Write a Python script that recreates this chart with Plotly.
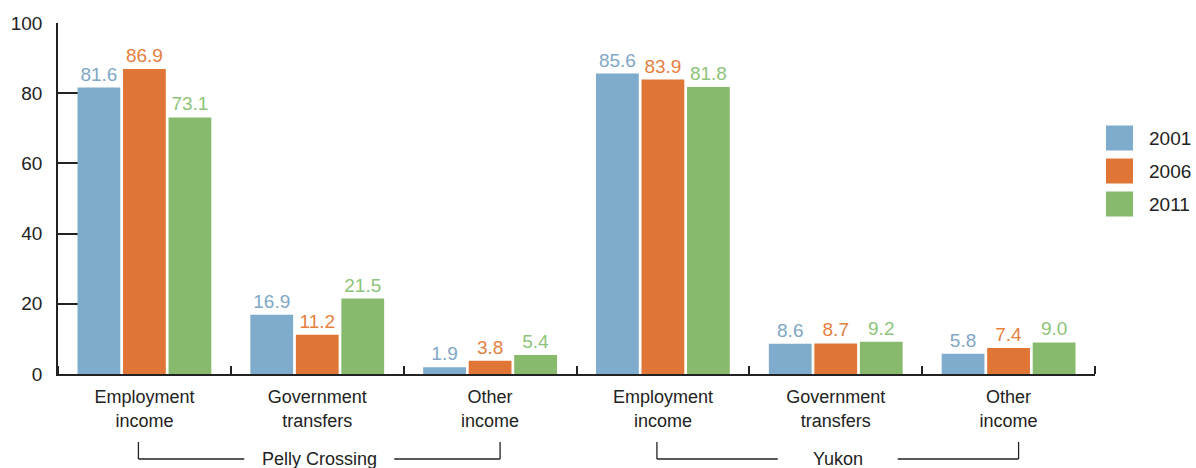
import plotly.graph_objects as go

# ---- data ----
regions = ["Pelly Crossing", "Yukon"]
income_types = ["Employment<br>income", "Government<br>transfers", "Other<br>income"]
years = ["2001", "2006", "2011"]
values_2001 = [81.6, 16.9, 1.9, 85.6, 8.6, 5.8]
values_2006 = [86.9, 11.2, 3.8, 83.9, 8.7, 7.4]
values_2011 = [73.1, 21.5, 5.4, 81.8, 9.2, 9.0]
y_ticks = [0, 20, 40, 60, 80, 100]

# ---- style ----
FONT = "Liberation Sans, Arial, sans-serif"
bar_colors = ["#7FABCC", "#E07636", "#87BA6C"]
text_colors = ["#7FA7C7", "#E5803F", "#8DC47A"]
AX = "#222222"

series = [values_2001, values_2006, values_2011]
n_cat = len(regions) * len(income_types)
x_pos = list(range(n_cat))
tick_text = [t for _ in regions for t in income_types]

fig = go.Figure()
for name, vals, c, tc in zip(years, series, bar_colors, text_colors):
    fig.add_trace(go.Bar(
        x=x_pos, y=vals, name=name,
        marker=dict(color=c, line=dict(width=0)),
        text=[f"{v:.1f}" for v in vals],
        textposition="outside",
        textfont=dict(family=FONT, size=19, color=tc),
        cliponaxis=False,
        showlegend=False,
        hoverinfo="skip",
    ))

W, H = 1196, 468
ml, mr, mt, mb = 58, 101, 23, 94
pw = W - ml - mr
ph = H - mt - mb

fig.update_layout(
    width=W, height=H,
    margin=dict(l=ml, r=mr, t=mt, b=mb, autoexpand=False),
    paper_bgcolor="white", plot_bgcolor="white",
    barmode="group", bargap=0.21, bargroupgap=0.06,
    font=dict(family=FONT, size=18, color=AX),
)
fig.update_xaxes(
    range=[-0.5, n_cat - 0.5],
    tickmode="array", tickvals=x_pos, ticktext=tick_text,
    ticks="", showline=True, linecolor=AX, linewidth=1.5,
    showgrid=False, zeroline=False,
    tickfont=dict(family=FONT, size=18, color=AX),
    ticklabelstandoff=6,
    minor=dict(tickmode="array", tickvals=[i - 0.5 for i in range(n_cat + 1)],
               ticks="inside", ticklen=8, tickwidth=1.5, tickcolor=AX, showgrid=False),
)
fig.update_yaxes(
    range=[0, 100], tickmode="array", tickvals=y_ticks,
    ticks="inside", ticklen=26, tickwidth=1.5, tickcolor=AX,
    showline=True, linecolor=AX, linewidth=1.5,
    showgrid=False, zeroline=False, layer="below traces",
    tickfont=dict(family=FONT, size=19, color=AX),
    ticklabelstandoff=10,
)

# ---- group brackets ----
def px_to_y(py):
    return (H - mb - py) / ph

def dx(px):
    return px / (pw / n_cat)

y_top = px_to_y(442)
y_line = px_to_y(459)
gap_half = [75, 60]
for gi, region in enumerate(regions):
    first = gi * len(income_types)
    last = first + len(income_types) - 1
    xl = first - dx(6)
    xr = last + dx(10)
    xc = (xl + xr) / 2
    g = dx(gap_half[gi])
    line = dict(color=AX, width=1.3)
    fig.add_shape(type="line", xref="x", yref="paper", x0=xl, x1=xl, y0=y_top, y1=y_line, line=line)
    fig.add_shape(type="line", xref="x", yref="paper", x0=xl, x1=xc - g, y0=y_line, y1=y_line, line=line)
    fig.add_shape(type="line", xref="x", yref="paper", x0=xc + g, x1=xr, y0=y_line, y1=y_line, line=line)
    fig.add_shape(type="line", xref="x", yref="paper", x0=xr, x1=xr, y0=y_line, y1=y_top, line=line)
    fig.add_annotation(x=xc, y=y_line, xref="x", yref="paper", text=region, showarrow=False,
                       font=dict(family=FONT, size=18, color=AX), xanchor="center", yanchor="middle")

# ---- legend (manual, large swatches) ----
def px_to_x(px):
    return (px - ml) / pw

for i, (name, c) in enumerate(zip(years, bar_colors)):
    cy = 138 + i * 33
    fig.add_shape(type="rect", xref="paper", yref="paper",
                  x0=px_to_x(1106), x1=px_to_x(1133),
                  y0=px_to_y(cy + 12.5), y1=px_to_y(cy - 12.5),
                  fillcolor=c, line=dict(width=0))
    fig.add_annotation(x=px_to_x(1147), y=px_to_y(cy), xref="paper", yref="paper",
                       text=name, showarrow=False, xanchor="left", yanchor="middle",
                       font=dict(family=FONT, size=19, color=AX))

fig.write_html("out.html", config={"displayModeBar": False},
               post_script="document.body.style.margin='0';document.body.style.overflow='hidden';")
